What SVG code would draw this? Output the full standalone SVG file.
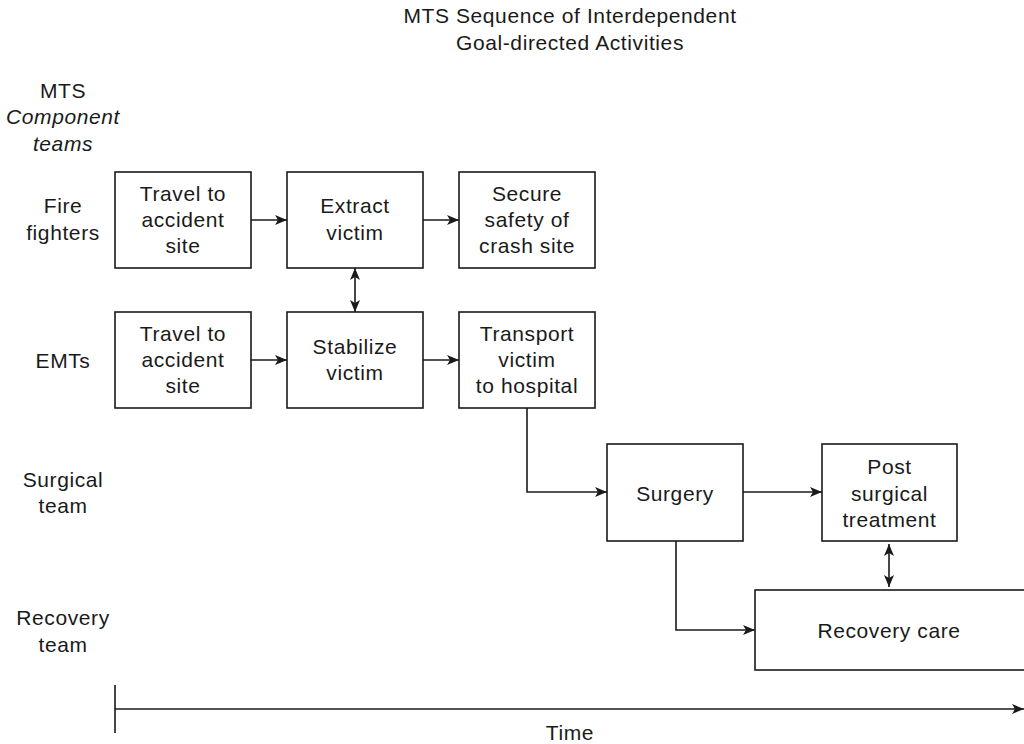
<svg xmlns="http://www.w3.org/2000/svg" width="1024" height="744" viewBox="0 0 1024 744">
  <style>
    text { font-family: "Liberation Sans", Arial, sans-serif; font-size: 21px; fill: #1a1a1a; text-anchor: middle; letter-spacing: 0.6px; }
    .it { font-style: italic; }
    .box { fill: #ffffff; stroke: #1a1a1a; stroke-width: 1.6; }
    .conn { fill: none; stroke: #1a1a1a; stroke-width: 1.6; }
  </style>
  <defs>
    <marker id="arrow" viewBox="0 0 12 10" refX="12" refY="5" markerWidth="12" markerHeight="10" markerUnits="userSpaceOnUse" orient="auto-start-reverse">
      <path d="M0,0 L12,5 L0,10 L3,5 z" fill="#1a1a1a"/>
    </marker>
  </defs>
  <rect width="1024" height="744" fill="#ffffff"/>

  <!-- Title -->
  <g id="title">
    <text x="570" y="23">MTS Sequence of Interdependent</text>
    <text x="570" y="50">Goal-directed Activities</text>
  </g>

  <!-- Row headings -->
  <g id="row-labels">
    <text x="63" y="98">MTS</text>
    <text x="63" y="124" class="it">Component</text>
    <text x="63" y="151" class="it">teams</text>
    <text x="63" y="213">Fire</text>
    <text x="63" y="240">fighters</text>
    <text x="63" y="368">EMTs</text>
    <text x="63" y="487">Surgical</text>
    <text x="63" y="513">team</text>
    <text x="63" y="625">Recovery</text>
    <text x="63" y="652">team</text>
  </g>

  <!-- Fire fighters -->
  <g id="ff-travel">
    <rect class="box" x="115" y="172" width="136" height="96"/>
    <text x="183" y="201">Travel to</text>
    <text x="183" y="227">accident</text>
    <text x="183" y="253">site</text>
  </g>
  <g id="ff-extract">
    <rect class="box" x="287" y="172" width="136" height="96"/>
    <text x="355" y="213">Extract</text>
    <text x="355" y="240">victim</text>
  </g>
  <g id="ff-secure">
    <rect class="box" x="459" y="172" width="136" height="96"/>
    <text x="527" y="201">Secure</text>
    <text x="527" y="227">safety of</text>
    <text x="527" y="253">crash site</text>
  </g>

  <!-- EMTs -->
  <g id="emt-travel">
    <rect class="box" x="115" y="312" width="136" height="96"/>
    <text x="183" y="341">Travel to</text>
    <text x="183" y="367">accident</text>
    <text x="183" y="393">site</text>
  </g>
  <g id="emt-stabilize">
    <rect class="box" x="287" y="312" width="136" height="96"/>
    <text x="355" y="354">Stabilize</text>
    <text x="355" y="380">victim</text>
  </g>
  <g id="emt-transport">
    <rect class="box" x="459" y="312" width="136" height="96"/>
    <text x="527" y="341">Transport</text>
    <text x="527" y="367">victim</text>
    <text x="527" y="393">to hospital</text>
  </g>

  <!-- Surgical team -->
  <g id="surgery">
    <rect class="box" x="607" y="444" width="136" height="97"/>
    <text x="675" y="501">Surgery</text>
  </g>
  <g id="post-surgical">
    <rect class="box" x="822" y="444" width="135" height="97"/>
    <text x="889.5" y="474">Post</text>
    <text x="889.5" y="501">surgical</text>
    <text x="889.5" y="527">treatment</text>
  </g>

  <!-- Recovery team -->
  <g id="recovery-care">
    <rect class="box" x="755" y="590" width="274" height="80"/>
    <text x="889" y="638">Recovery care</text>
  </g>

  <!-- Connectors -->
  <g id="connectors">
    <line class="conn" x1="251" y1="220" x2="287" y2="220" marker-end="url(#arrow)"/>
    <line class="conn" x1="423" y1="220" x2="459" y2="220" marker-end="url(#arrow)"/>
    <line class="conn" x1="355" y1="268" x2="355" y2="312" marker-start="url(#arrow)" marker-end="url(#arrow)"/>
    <line class="conn" x1="251" y1="360" x2="287" y2="360" marker-end="url(#arrow)"/>
    <line class="conn" x1="423" y1="360" x2="459" y2="360" marker-end="url(#arrow)"/>
    <polyline class="conn" points="527,408 527,492 607,492" marker-end="url(#arrow)"/>
    <line class="conn" x1="743" y1="492" x2="822" y2="492" marker-end="url(#arrow)"/>
    <polyline class="conn" points="676,541 676,630 755,630" marker-end="url(#arrow)"/>
    <line class="conn" x1="889" y1="544" x2="889" y2="587" marker-start="url(#arrow)" marker-end="url(#arrow)"/>
  </g>

  <!-- Time axis -->
  <g id="time-axis">
    <line class="conn" x1="115" y1="685" x2="115" y2="733"/>
    <line class="conn" x1="115" y1="709" x2="1024" y2="709" marker-end="url(#arrow)"/>
    <text x="570" y="740">Time</text>
  </g>
</svg>
